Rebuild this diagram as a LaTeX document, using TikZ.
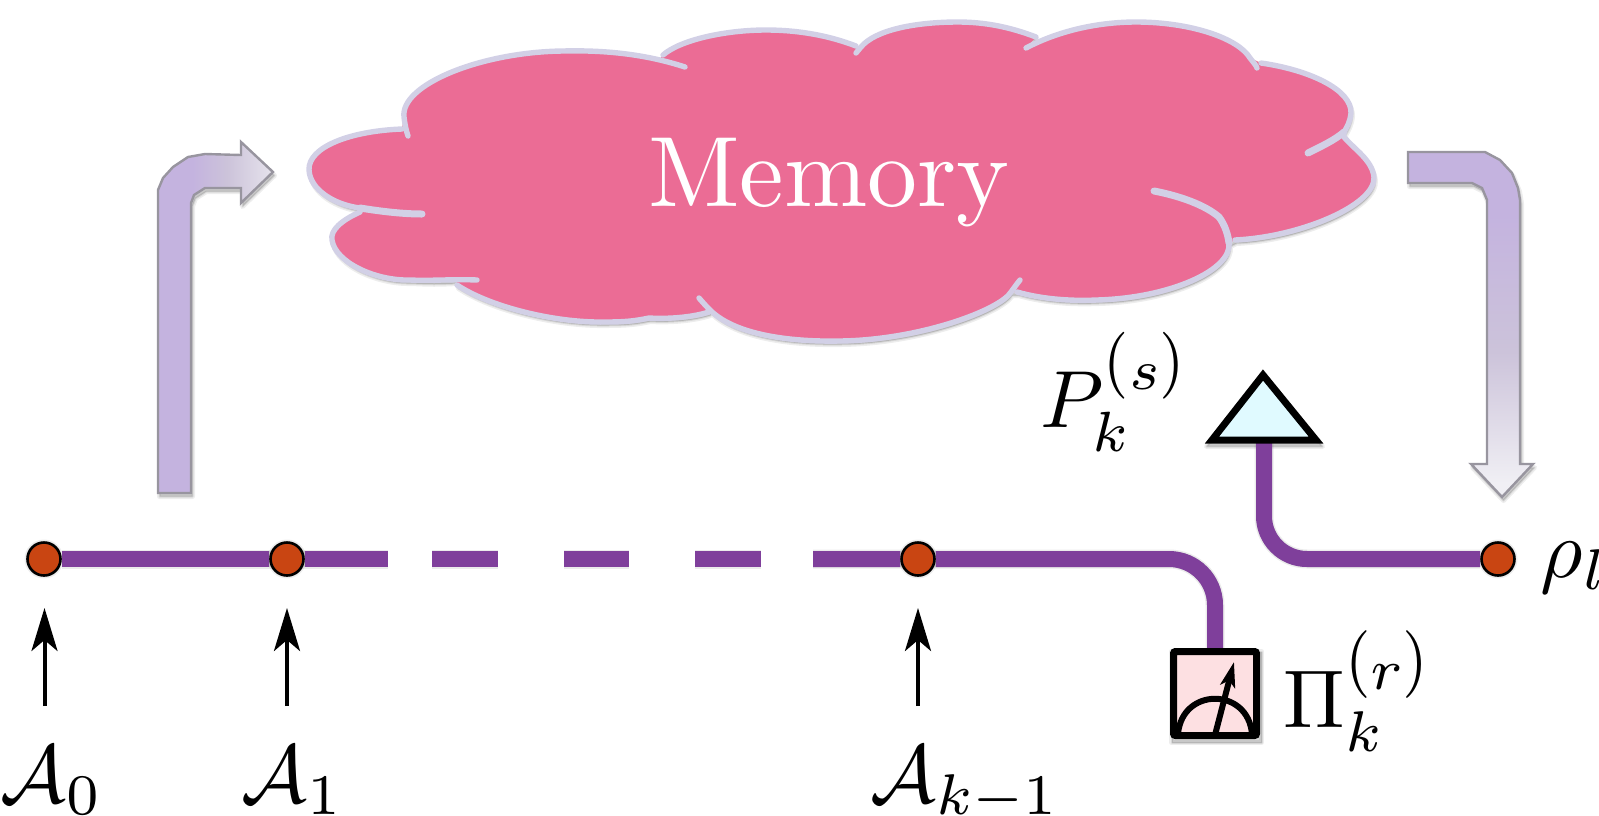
\documentclass[tikz,border=0pt]{standalone}
\usepackage{amsmath}
\usepackage{graphicx}
\usetikzlibrary{arrows.meta,backgrounds}
\definecolor{cloudpink}{HTML}{EB6C95}
\definecolor{cloudline}{HTML}{D2D0E6}
\definecolor{wirepurple}{HTML}{7F3F9B}
\definecolor{dotorange}{HTML}{C94512}
\definecolor{trifill}{HTML}{E0FAFF}
\definecolor{boxfill}{HTML}{FDE0E2}
\definecolor{arrowa}{HTML}{C4B3DF}
\definecolor{arrowm}{HTML}{CCC3DA}
\definecolor{arrowb}{HTML}{E6E3EC}
\definecolor{arrowc}{HTML}{F0EFF4}
\definecolor{arrowline}{HTML}{98959F}
\pgfdeclarehorizontalshading{arrowL}{100bp}{color(0bp)=(arrowa); color(40bp)=(arrowa); color(55bp)=(arrowm); color(75bp)=(arrowb); color(100bp)=(arrowb)}
\pgfdeclareverticalshading{arrowR}{100bp}{color(0bp)=(arrowc); color(27bp)=(arrowc); color(46bp)=(arrowm); color(66bp)=(arrowa); color(100bp)=(arrowa)}
\newcommand{\softshadow}[1]{%
  \path[shift={(1.5,3.5)},fill=black,draw=black,line join=round,fill opacity=.07,draw opacity=.07,line width=5pt] #1;%
  \path[shift={(1.5,3.5)},fill=black,draw=black,line join=round,fill opacity=.09,draw opacity=.09,line width=2pt] #1;%
}
\newcommand{\wireshadow}[1]{%
  \draw[shift={(1,3)},black,opacity=.08,line width=19pt] #1;%
  \draw[shift={(1,3)},black,opacity=.10,line width=16pt] #1;%
}
\newcommand{\tallparen}[1]{\raisebox{0.9pt}{\scalebox{1}[1.18]{$\scriptstyle #1$}}}
\tikzset{
  wire/.style={draw=wirepurple,line width=16pt},
  dotnode/.style={circle,draw=black,fill=dotorange,line width=2.6pt,minimum size=33pt,inner sep=0pt},
  cloudedge/.style={draw=cloudline,line width=5.4pt,line cap=round,line join=round},
  cloudstub/.style={draw=cloudline,line width=7pt,line cap=round,line join=round},
  bigarrow/.style={draw=arrowline,line width=2.4pt,line join=miter},
  inarrow/.style={draw=black,line width=4pt,-{Stealth[length=43pt,width=26pt,inset=11pt]}},
  lbl/.style={inner sep=0pt,anchor=base west,text=black},
  meterbox/.style={draw=black,fill=boxfill,line width=7pt,rounded corners=2pt,minimum width=83pt,minimum height=84pt,inner sep=0pt},
}
\newcommand{\cloudfill}{(663,55) .. controls (680,40) and (725,30) .. (766,30) .. controls (800,30) and (830,36) .. (856,46) -- (861,47) .. controls (875,30) and (915,22) .. (958,22) .. controls (985,22) and (1010,27) .. (1036,37) -- (1026,48) .. controls (1060,30) and (1100,22) .. (1136,22) .. controls (1190,22) and (1238,38) .. (1250,58) -- (1261,63) .. controls (1310,70) and (1352,90) .. (1351,113) .. controls (1350,122) and (1347,127) .. (1344,132) -- (1344,137) .. controls (1355,150) and (1372,160) .. (1374,177) .. controls (1376,205) and (1300,237) .. (1235,240) -- (1229,243) .. controls (1232,270) and (1170,298) .. (1097,300) .. controls (1075,301) and (1045,300) .. (1017,292) -- (1011,292) .. controls (1000,310) and (920,340) .. (840,341) .. controls (790,342) and (735,335) .. (710,310) -- (709,312) .. controls (690,318) and (665,319) .. (649,318) .. controls (635,321) and (625,322) .. (605,322) .. controls (555,323) and (490,307) .. (457,285) -- (456,280) .. controls (435,281) and (430,281) .. (410,280) .. controls (375,281) and (335,262) .. (332,240) .. controls (330,230) and (342,220) .. (360,212) -- (360,208) .. controls (335,205) and (310,190) .. (309,170) .. controls (308,147) and (350,131) .. (402,129) -- (404,117) .. controls (400,85) and (480,52) .. (563,51) .. controls (605,50) and (640,54) .. (659,60) -- cycle}
\newcommand{\arrowLpath}{(158,493) -- (191,493) -- (191,203) -- (194,195) -- (205,188) -- (241,188) -- (241,203) -- (273,172) -- (241,142) -- (241,155) -- (205,154) -- (188,157) -- (173,167) -- (163,178) -- (158,190) -- cycle}
\newcommand{\arrowRpath}{(1408,152) -- (1485,152) -- (1500,160) -- (1512,173) -- (1518,188) -- (1520,200) -- (1520,464) -- (1533,464) -- (1502,497) -- (1471,464) -- (1487,464) -- (1487,200) -- (1482,188) -- (1472,183) -- (1408,183) -- cycle}
\begin{document}
\begin{tikzpicture}[x=1pt,y=-1pt]
\useasboundingbox (0,0) rectangle (1599,815);
% nodes
\node[dotnode] (n0) at (44,559) {};
\node[dotnode] (n1) at (287,559) {};
\node[dotnode] (nk) at (918,559) {};
\node[dotnode] (nl) at (1498,559) {};
\node[meterbox] (meter) at (1215,693.5) {};
\coordinate (tribase) at (1264,440);
\coordinate (w1) at (388,559);
\coordinate (d1a) at (432,559);
\coordinate (d1b) at (498,559);
\coordinate (d2a) at (564,559);
\coordinate (d2b) at (629,559);
\coordinate (d3a) at (695,559);
\coordinate (d3b) at (761,559);
\coordinate (d4a) at (813,559);
\coordinate (a0) at (44.5,706);
\coordinate (a1) at (287,706);
\coordinate (ak) at (918,706);
\coordinate (t0) at (44.5,608);
\coordinate (t1) at (287,608);
\coordinate (tk) at (918,608);
\begin{scope}[on background layer]
  \wireshadow{(n0) -- (w1)}
  \wireshadow{(d1a) -- (d1b)}
  \wireshadow{(d2a) -- (d2b)}
  \wireshadow{(d3a) -- (d3b)}
  \wireshadow{[rounded corners=46pt] (d4a) -- (nk -| meter) -- (meter.north)}
  \wireshadow{[rounded corners=43pt] (tribase) -- (tribase |- nl) -- (nl)}
  \softshadow{(n0) circle[radius=17]}
  \softshadow{(n1) circle[radius=17]}
  \softshadow{(nk) circle[radius=17]}
  \softshadow{(nl) circle[radius=17]}
  \softshadow{(1170,648) rectangle (1260,739)}
  \softshadow{(1263,375) -- (1205,443) -- (1321,443) -- cycle}
  \draw[wire] (n0) -- (n1) -- (w1);
  \draw[wire] (d1a) -- (d1b);
  \draw[wire] (d2a) -- (d2b);
  \draw[wire] (d3a) -- (d3b);
  \draw[wire,rounded corners=46pt] (d4a) -- (nk) -- (nk -| meter) -- (meter.north);
  \draw[wire,rounded corners=43pt] (tribase) -- (tribase |- nl) -- (nl);
\end{scope}
% cloud
\softshadow{\cloudfill}
\fill[cloudpink] \cloudfill;
\draw[cloudedge] (685,67) .. controls (645,54) and (605,50) .. (563,51) .. controls (480,52) and (400,85) .. (404,117) .. controls (405,125) and (406,130) .. (408,136);
\draw[cloudedge] (402,129) .. controls (350,131) and (308,147) .. (309,170) .. controls (310,190) and (335,205) .. (360,208);
\draw[cloudstub] (360,208) .. controls (385,212) and (405,214) .. (422,214);
\draw[cloudedge] (360,212) .. controls (342,220) and (330,230) .. (332,240) .. controls (335,262) and (375,281) .. (410,280) .. controls (430,281) and (455,279) .. (477,280);
\draw[cloudedge] (457,285) .. controls (490,307) and (555,323) .. (605,322) .. controls (625,322) and (635,321) .. (649,318) .. controls (665,319) and (690,318) .. (709,312);
\draw[cloudedge] (699,298) .. controls (705,305) and (708,308) .. (710,310) .. controls (735,335) and (790,342) .. (840,341) .. controls (920,340) and (1000,310) .. (1011,292) .. controls (1014,288) and (1016,285) .. (1020,280);
\draw[cloudedge] (1017,292) .. controls (1045,300) and (1075,301) .. (1097,300) .. controls (1170,298) and (1232,270) .. (1229,243);
\draw[cloudstub] (1229,243) .. controls (1228,235) and (1225,225) .. (1219,217) .. controls (1205,205) and (1180,196) .. (1154,191);
\draw[cloudedge] (1235,240) .. controls (1300,237) and (1376,205) .. (1374,177) .. controls (1372,160) and (1355,150) .. (1344,137);
\draw[cloudedge] (1261,63) .. controls (1310,70) and (1352,90) .. (1351,113) .. controls (1350,122) and (1347,127) .. (1344,132);
\draw[cloudstub] (1344,132) .. controls (1335,140) and (1320,147) .. (1308,153);
\draw[cloudedge] (1026,48) .. controls (1060,30) and (1100,22) .. (1136,22) .. controls (1190,22) and (1238,38) .. (1250,58) .. controls (1253,62) and (1256,65) .. (1257,68);
\draw[cloudedge] (1036,37) .. controls (1010,27) and (985,22) .. (958,22) .. controls (915,22) and (875,30) .. (861,47) -- (856,53);
\draw[cloudedge] (856,46) .. controls (830,36) and (800,30) .. (766,30) .. controls (725,30) and (680,40) .. (663,55);
\node[lbl,text=white,scale=10] (memory) at (646,206) {Memory};
% bent arrows
\softshadow{\arrowLpath}
\draw[bigarrow,shading=arrowL] \arrowLpath;
\softshadow{\arrowRpath}
\draw[bigarrow,shading=arrowR] \arrowRpath;
% triangle
\draw[draw=black,fill=trifill,line width=7pt,line join=miter] (1263,375) -- (1212,440) -- (1316,440) -- cycle;
% meter
\draw[black,line width=6pt] (1178,734) .. controls (1182,687) and (1248,687) .. (1252,734);
\draw[black,line width=6pt,-{Stealth[length=25pt,width=15pt,inset=6pt]}] (1215,735) -- (1234,662);
% input arrows
\draw[inarrow] (a0) -- (t0);
\draw[inarrow] (a1) -- (t1);
\draw[inarrow] (ak) -- (tk);
% labels
\node[lbl,scale=8.2] (l0) at (-1,802) {$\mathcal{A}_0$};
\node[lbl,scale=8.2] (l1) at (240,802) {$\mathcal{A}_1$};
\node[lbl,scale=8.2] (lk) at (869,802) {$\mathcal{A}_{k-1}$};
\node[lbl,scale=8.1] (lp) at (1039,427) {$P_k^{\tallparen{(}s\tallparen{)}}$};
\node[lbl,scale=8.2] (lpi) at (1282,727) {$\Pi_k^{\tallparen{(}r\tallparen{)}}$};
\node[lbl,scale=8.2] (lr) at (1539,577) {$\rho_l$};
\end{tikzpicture}
\end{document}
